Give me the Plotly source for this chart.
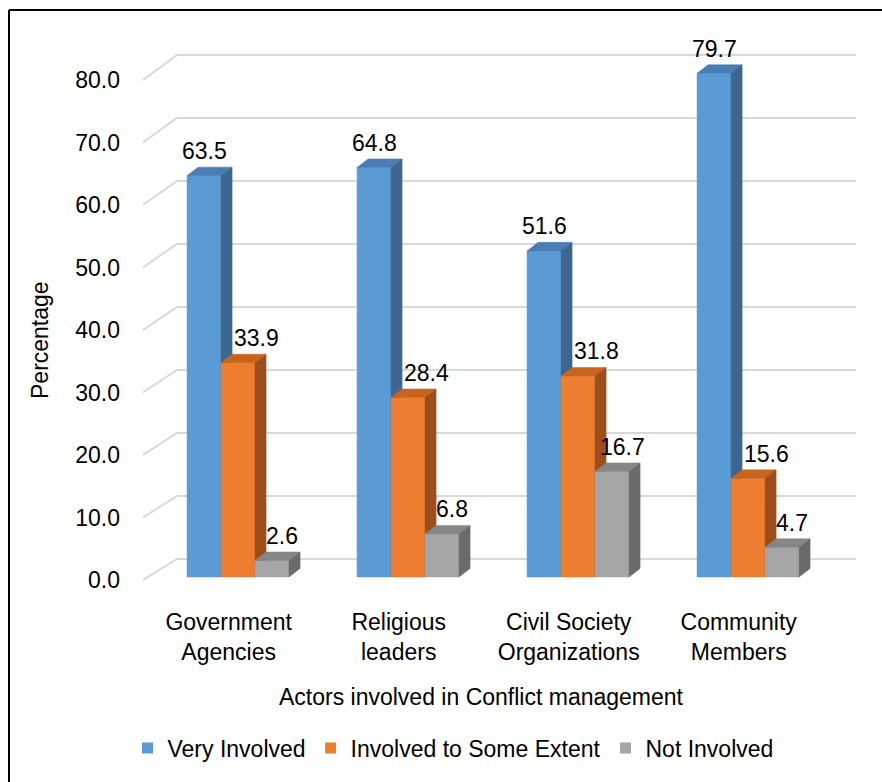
import plotly.graph_objects as go

# ---- data -------------------------------------------------------------
categories = ["Government<br>Agencies", "Religious<br>leaders",
              "Civil Society<br>Organizations", "Community<br>Members"]
very_involved = [63.5, 64.8, 51.6, 79.7]
some_extent = [33.9, 28.4, 31.8, 15.6]
not_involved = [2.6, 6.8, 16.7, 4.7]
series_names = ["Very Involved", "Involved to Some Extent", "Not Involved"]
y_ticks = [0, 10, 20, 30, 40, 50, 60, 70, 80]
y_tick_labels = ["0.0", "10.0", "20.0", "30.0", "40.0", "50.0", "60.0", "70.0", "80.0"]

# ---- styling ----------------------------------------------------------
FONT = "Arial, Liberation Sans, sans-serif"
FS = 23
# (front, top, side) shades for each series
SHADES = [
    ("#5B9BD5", "#4A7DB2", "#3D6690"),
    ("#ED7D31", "#C8641E", "#9E4E1C"),
    ("#A5A5A5", "#868686", "#6B6B6B"),
]
LABEL_DX = [0.0, 0.106, 0.059]       # label nudge per series (x units)

W, H = 882, 782
L, R, T, B = 143, 856, 20, 600       # plot area in pixels
X_RANGE = [-0.559, 3.635]
Y_RANGE = [-3.64, 88.13]             # bar scale
Y2_RANGE = [-3.2, 89.6]              # scale of the tick labels (front edge)

BAR_W = 0.2
DEPTH_X = 0.065                      # bar depth, x units
DEPTH_Y = 1.35                       # bar depth, y units


def px_to_y(py):
    return Y_RANGE[0] + (B - py) / (B - T) * (Y_RANGE[1] - Y_RANGE[0])


def y2_to_px(v):
    return B - (v - Y2_RANGE[0]) / (Y2_RANGE[1] - Y2_RANGE[0]) * (B - T)


def px_to_x(px):
    return X_RANGE[0] + (px - L) / (R - L) * (X_RANGE[1] - X_RANGE[0])


fig = go.Figure()

# ---- 3D floor/back-wall gridlines --------------------------------------
WALL_DX_PX, WALL_DY_PX = 34, 21
for v in y_ticks:
    fy = y2_to_px(v)
    by = fy - WALL_DY_PX - 0.05 * v
    fig.add_shape(type="path",
                  path=f"M {X_RANGE[0]},{px_to_y(fy)} L {px_to_x(L + WALL_DX_PX)},{px_to_y(by)} "
                       f"L {X_RANGE[1]},{px_to_y(by)}",
                  xref="x", yref="y", line=dict(color="#D9D9D9", width=2), layer="below")

# ---- 3D columns --------------------------------------------------------
all_series = [very_involved, some_extent, not_involved]
for k, vals in enumerate(all_series):
    fx, fy, tx, ty, sx, sy = [], [], [], [], [], []
    for i, v in enumerate(vals):
        xl = i - 1.5 * BAR_W + k * BAR_W
        xr = xl + BAR_W
        fx += [xl, xr, xr, xl, xl, None]
        fy += [0, 0, v, v, 0, None]
        tx += [xl, xr, xr + DEPTH_X, xl + DEPTH_X, xl, None]
        ty += [v, v, v + DEPTH_Y, v + DEPTH_Y, v, None]
        sx += [xr, xr + DEPTH_X, xr + DEPTH_X, xr, xr, None]
        sy += [0, DEPTH_Y, v + DEPTH_Y, v, 0, None]
    for xs, ys, col in ((fx, fy, SHADES[k][0]), (tx, ty, SHADES[k][1]), (sx, sy, SHADES[k][2])):
        fig.add_trace(go.Scatter(x=xs, y=ys, fill="toself", fillcolor=col, mode="lines",
                                 line=dict(color=col, width=0.5), hoverinfo="skip",
                                 showlegend=False))
    for i, v in enumerate(vals):
        xc = i - 1.5 * BAR_W + k * BAR_W + BAR_W / 2 + LABEL_DX[k]
        fig.add_annotation(x=xc, y=v + DEPTH_Y, text=f"{v:.1f}", showarrow=False,
                           xanchor="center", yanchor="bottom", yshift=1,
                           font=dict(family=FONT, size=FS, color="black"))

# legend entries
for k, name in enumerate(series_names):
    fig.add_trace(go.Scatter(x=[None], y=[None], mode="markers", name=name,
                             marker=dict(symbol="square", size=11, color=SHADES[k][0])))

# carrier for the tick-label axis
fig.add_trace(go.Scatter(x=[0], y=[0], yaxis="y2", mode="none", showlegend=False,
                         hoverinfo="skip"))

fig.update_layout(
    width=W, height=H,
    margin=dict(l=L, r=W - R, t=T, b=H - B, pad=0),
    paper_bgcolor="white", plot_bgcolor="white",
    font=dict(family=FONT, size=FS, color="black"),
    xaxis=dict(range=X_RANGE, showgrid=False, zeroline=False, showline=False,
               tickmode="array", tickvals=[i - 0.055 for i in range(len(categories))],
               ticktext=categories, ticks="", ticklabelstandoff=6,
               tickfont=dict(family=FONT, size=FS, color="black")),
    yaxis=dict(range=Y_RANGE, showgrid=False, zeroline=False, showline=False,
               showticklabels=False, ticks=""),
    yaxis2=dict(range=Y2_RANGE, overlaying="y", side="left", showgrid=False,
                zeroline=False, showline=False, tickmode="array", tickvals=y_ticks,
                ticktext=y_tick_labels, ticks="", ticklabelstandoff=22,
                tickfont=dict(family=FONT, size=FS, color="black")),
    legend=dict(orientation="h", x=(453 - L) / (R - L), xanchor="center",
                y=(B - 748) / (B - T), yanchor="middle",
                font=dict(family=FONT, size=FS, color="black"), bgcolor="rgba(0,0,0,0)"),
    showlegend=True,
)

# axis titles
fig.add_annotation(text="Percentage", xref="paper", yref="paper",
                   x=(40 - L) / (R - L), y=(B - 340) / (B - T), textangle=-90,
                   showarrow=False, xanchor="center", yanchor="middle",
                   font=dict(family=FONT, size=FS, color="black"))
fig.add_annotation(text="Actors involved in Conflict management", xref="paper", yref="paper",
                   x=(481 - L) / (R - L), y=(B - 697) / (B - T), showarrow=False,
                   xanchor="center", yanchor="middle",
                   font=dict(family=FONT, size=FS, color="black"))

# chart border (left and top edges)
fig.add_shape(type="line", xref="paper", yref="paper",
              x0=(9 - L) / (R - L), x1=(9 - L) / (R - L),
              y0=(B - 10) / (B - T), y1=(B - 800) / (B - T),
              line=dict(color="black", width=2))
fig.add_shape(type="line", xref="paper", yref="paper",
              x0=(9 - L) / (R - L), x1=(900 - L) / (R - L),
              y0=(B - 10) / (B - T), y1=(B - 10) / (B - T),
              line=dict(color="black", width=2))

fig.write_html("out.html")
